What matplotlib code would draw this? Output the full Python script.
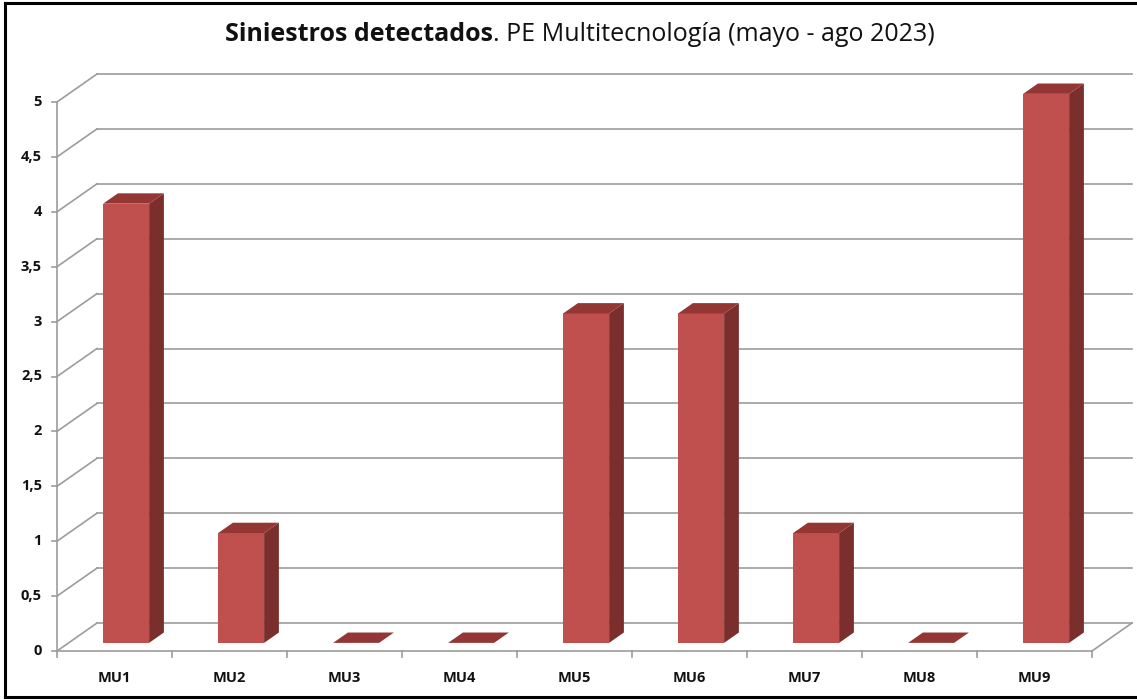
import matplotlib
matplotlib.use('Agg')
import matplotlib.pyplot as plt
from matplotlib.patches import Polygon, Rectangle
import numpy as np

categories = ['MU1', 'MU2', 'MU3', 'MU4', 'MU5', 'MU6', 'MU7', 'MU8', 'MU9']
values = [4, 1, 0, 0, 3, 3, 1, 0, 5]
y_ticks = [0, 0.5, 1, 1.5, 2, 2.5, 3, 3.5, 4, 4.5, 5]
y_labels = ['0', '0,5', '1', '1,5', '2', '2,5', '3', '3,5', '4', '4,5', '5']

plt.rcParams['font.family'] = ['Open Sans', 'DejaVu Sans']

W, H = 1137, 700
fig = plt.figure(figsize=(W / 100, H / 100), dpi=100)
ax = fig.add_axes([0, 0, 1, 1])
ax.axis('off')

# pixel layout of the pseudo-3D plot area
px_left, px_cat, px_zero, px_unit = 57, 115, 49, 109.8
ax.set_xlim(-0.5 - px_left / px_cat, -0.5 + (W - px_left) / px_cat)
ax.set_ylim(-px_zero / px_unit, (H - px_zero) / px_unit)

DX = 40 / px_cat      # depth offset in category units
DY = 28 / px_unit     # depth offset in value units
n = len(categories)
x_lo, x_hi = -0.5, n - 0.5
grid_c = '#9c9c9c'

# back wall gridlines + left wall diagonals
for t, lab in zip(y_ticks, y_labels):
    ax.plot([x_lo + DX, x_hi + DX], [t + DY, t + DY], color=grid_c, lw=1.2, zorder=1)
    ax.plot([x_lo, x_lo + DX], [t, t + DY], color=grid_c, lw=1.2, zorder=1)
    ax.plot([x_lo - 5 / px_cat, x_lo], [t, t], color=grid_c, lw=1.2, zorder=1)
    ax.text(x_lo - 15 / px_cat, t, lab, ha='right', va='center',
            fontsize=10.5, fontweight='bold', color='#111111')

# front axis line and floor
ax.plot([x_lo, x_lo], [0, max(y_ticks)], color=grid_c, lw=1.2, zorder=1)
ax.plot([x_lo, x_hi], [0, 0], color=grid_c, lw=1.2, zorder=1)
ax.plot([x_hi, x_hi + DX], [0, DY], color=grid_c, lw=1.2, zorder=1)
for k in range(n + 1):
    ax.plot([x_lo + k, x_lo + k], [0, -6 / px_unit], color=grid_c, lw=1.2, zorder=1)

for i, c in enumerate(categories):
    ax.text(i, -27 / px_unit, c, ha='center', va='center', fontsize=10.5,
            fontweight='bold', color='#111111')

# bars
bw = 0.4
f0, f1 = 0.29, 0.66
front_c, side_c, top_c = '#C0504D', '#7A2F2D', '#943634'
for i, v in enumerate(values):
    x0 = i - bw / 2 + f0 * DX
    x1 = x0 + bw
    y0 = f0 * DY
    y1 = y0 + v
    ddx = (f1 - f0) * DX
    ddy = (f1 - f0) * DY
    if v > 0:
        ax.add_patch(Rectangle((x0, y0), bw, v, facecolor=front_c, edgecolor='none', zorder=3))
        ax.add_patch(Polygon([(x1, y0), (x1 + ddx, y0 + ddy), (x1 + ddx, y1 + ddy), (x1, y1)],
                             closed=True, facecolor=side_c, edgecolor='none', zorder=3))
    ax.add_patch(Polygon([(x0, y1), (x1, y1), (x1 + ddx, y1 + ddy), (x0 + ddx, y1 + ddy)],
                         closed=True, facecolor=top_c, edgecolor='none', zorder=3))

# title: bold part + regular part, centred together
fig.canvas.draw()
r = fig.canvas.get_renderer()
t1 = fig.text(0, 0, 'Siniestros detectados', fontsize=18, fontweight='bold', color='#111111')
t2 = fig.text(0, 0, '. PE Multitecnología (mayo - ago 2023)', fontsize=18, color='#111111')
w1 = t1.get_window_extent(r).width
w2 = t2.get_window_extent(r).width
start = 580 - (w1 + w2) / 2
ty = 1 - 41 / H
t1.set_position((start / W, ty))
t2.set_position(((start + w1) / W, ty))

# outer frame (left, top, bottom)
fig.add_artist(plt.Line2D([5 / W, 5 / W], [3 / H, 1 - 3 / H], color='black', lw=2.2))
fig.add_artist(plt.Line2D([5 / W, 1], [1 - 3 / H, 1 - 3 / H], color='black', lw=2.2))
fig.add_artist(plt.Line2D([5 / W, 1], [3 / H, 3 / H], color='black', lw=2.2))

fig.savefig('out.png', dpi=100)
